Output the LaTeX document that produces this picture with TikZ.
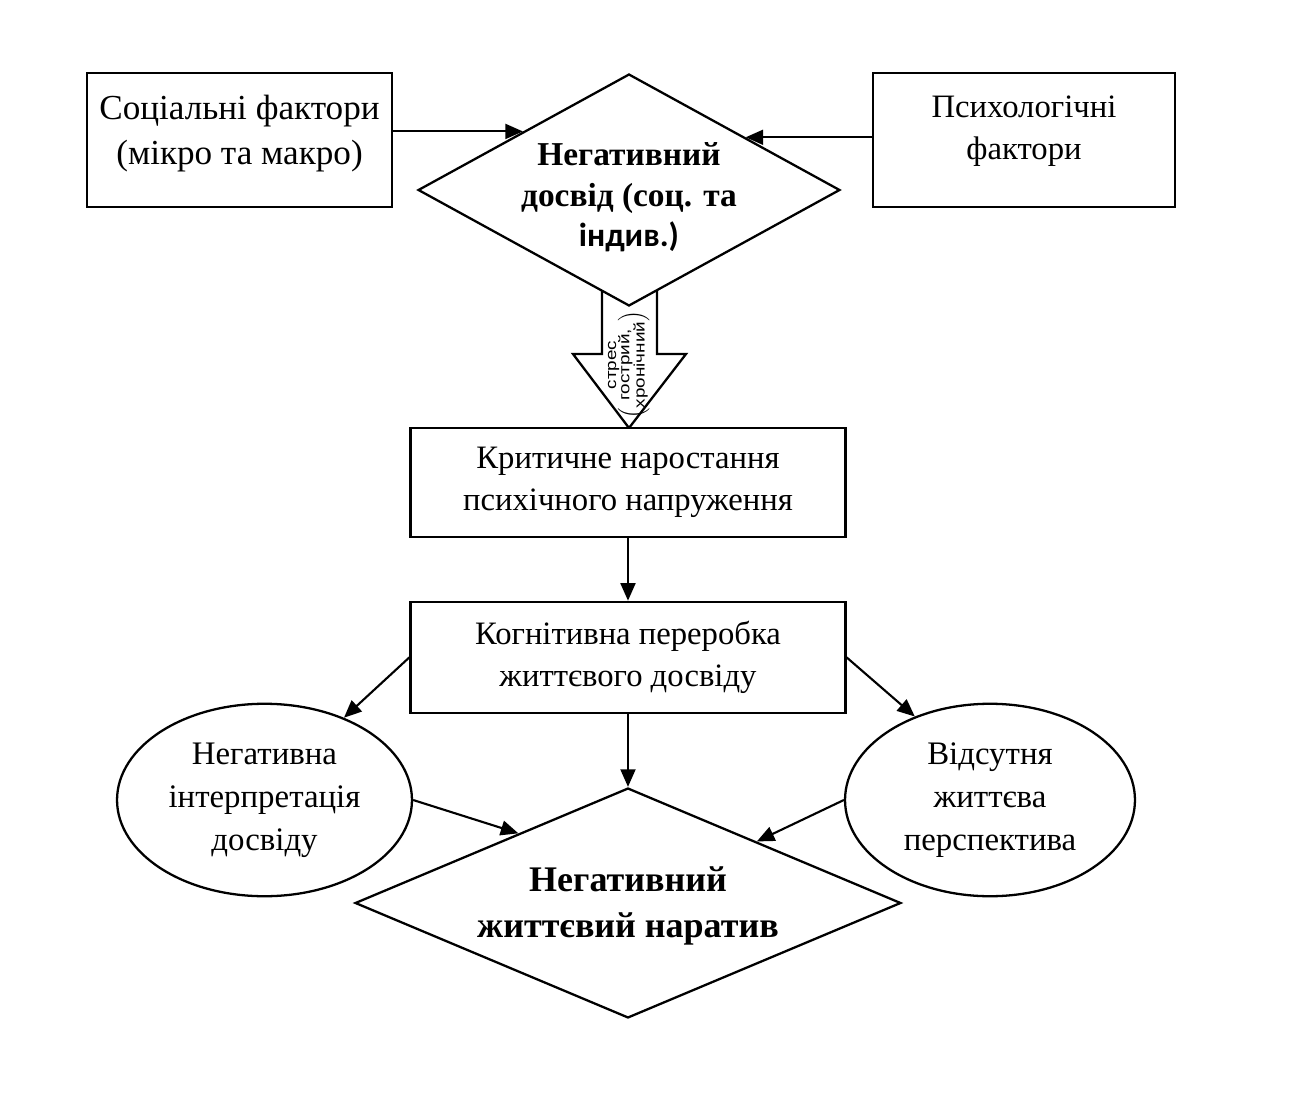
\documentclass[tikz,border=0pt]{standalone}
\usepackage{fontspec}
\setmainfont{Liberation Serif}
\newfontfamily\timesf{Liberation Serif}
\newfontfamily\arialf[FakeStretch=1.25]{Liberation Sans}
\newfontfamily\carlitof{Carlito}
\usetikzlibrary{shapes.geometric,arrows.meta,calc}
\begin{document}
\begin{tikzpicture}[x=0.02cm,y=-0.02cm,
 box/.style={draw, line width=1.5pt, rectangle, inner sep=0pt, align=center, fill=white, font=\fontsize{18.6}{24}\selectfont},
 oval/.style={draw, line width=1.3pt, ellipse, inner sep=0pt, align=center, font=\fontsize{18.7}{24.5}\selectfont},
 dia/.style={draw, line width=1.3pt, diamond, inner sep=0pt, fill=white},
 dtext/.style={inner sep=0pt, align=center},
 arr/.style={line width=1.2pt, -{Triangle[length=10pt,width=8.5pt]}},
 blk/.style={draw, line width=1.3pt, fill=white, line join=miter}
 ]
\useasboundingbox (0,0) rectangle (1313,1115);

% block arrow (drawn before the diamond so that the diamond covers its top)
\draw[blk] (602,270) -- (602,354) -- (573,354) -- (629,428) -- (686,354) -- (657,354) -- (657,270);

\node[dia, minimum width=8.44cm, minimum height=4.64cm] (d1) at (629,190) {};
\node[dtext, font=\timesf\bfseries\fontsize{19}{23.5}\selectfont, anchor=base] (d1t) at (629,207)
 {Негативний\\досвід (соц. та};
\node[dtext, font=\carlitof\bfseries\fontsize{19}{23.5}\selectfont, anchor=base] (d1u) at (629,247) {індив.)};

\node[rotate=90, font=\arialf\fontsize{8.6}{9.6}\selectfont, inner sep=0pt] (st) at (627,365)
 {\begin{tabular}{@{}c@{}}стрес\\[-2pt]$\left(\mbox{\begin{tabular}{@{}c@{}}гострий,\\[-1pt]хронічний\end{tabular}}\right)$\end{tabular}};

\node[box, minimum width=6.1cm, minimum height=2.68cm, font=\fontsize{20}{25.5}\selectfont] (b1) at (239.5,140) {Соціальні фактори\\(мікро та макро)\\[-14pt]\mbox{}};
\node[box, minimum width=6.04cm, minimum height=2.68cm] (b2) at (1024,140) {Психологічні\\фактори\\[-10pt]\mbox{}};
\node[box, minimum width=8.7cm, minimum height=2.18cm] (b3) at (628,482.5) {Критичне наростання\\психічного напруження};
\node[box, minimum width=8.7cm, minimum height=2.22cm] (b4) at (628,657.5) {Когнітивна переробка\\життєвого досвіду};

\node[oval, minimum width=5.9cm, minimum height=3.85cm] (e1) at (264.5,800) {Негативна\\інтерпретація\\досвіду};
\node[oval, minimum width=5.8cm, minimum height=3.85cm] (e2) at (990,800) {Відсутня\\життєва\\перспектива};

\node[dia, minimum width=10.92cm, minimum height=4.6cm] (d2) at (628,903) {};
\node[dtext, font=\timesf\bfseries\fontsize{20.5}{26}\selectfont] (d2t) at (628,906) {Негативний\\життєвий наратив};

% connectors
\coordinate (m1) at ($(d1.west)!0.5!(d1.north)$);
\coordinate (m2) at ($(d1.north)!0.55!(d1.east)$);
\draw[arr] (b1.east |- m1) -- (m1);
\draw[arr] (b2.west |- m2) -- (m2);
\draw[arr] (b3.south) -- (b4.north);
\draw[arr] (b4.west) -- (e1.46);
\draw[arr] (b4.east) -- (e2.132);
\draw[arr] (b4.south) -- (d2.north);
\coordinate (m3) at ($(d2.west)!0.6!(d2.north)$);
\coordinate (m4) at ($(d2.north)!0.47!(d2.east)$);
\draw[arr] (e1.east) -- (m3);
\draw[arr] (e2.west) -- (m4);
\end{tikzpicture}
\end{document}
